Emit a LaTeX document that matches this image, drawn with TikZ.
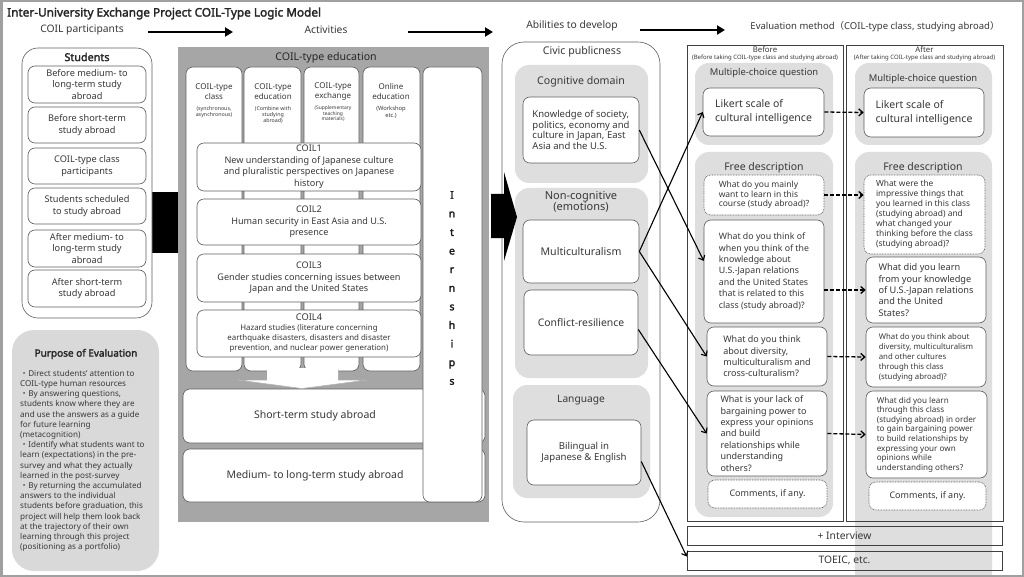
\documentclass[tikz,border=0pt]{standalone}
\usepackage{fontspec}
\setmainfont{Noto Sans}[AutoFakeBold=2.2]
\newfontfamily\cjk{Noto Sans CJK JP}
\usetikzlibrary{arrows.meta}
\definecolor{txt}{HTML}{383838}
\definecolor{bord}{HTML}{5E5E5E}
\definecolor{lg}{HTML}{DEDEDE}
\definecolor{pg}{HTML}{D9D9D9}
\definecolor{mg}{HTML}{A6A6A6}
\definecolor{frm}{HTML}{A0A0A0}
\newcommand\setfs[2]{\fontsize{#1}{#2}\selectfont}
\newcommand{\mkbox}[7]{%
  \pgfmathsetmacro\mbw{#4-#2}\pgfmathsetmacro\mbh{#5-#3}%
  \pgfmathsetmacro\mbx{(#2+#4)/2}\pgfmathsetmacro\mby{(#3+#5)/2}%
  \node[inner sep=0pt, minimum width=\mbw pt, minimum height=\mbh pt, #1] (#6) at (\mbx,\mby) {#7};}
\tikzset{
  wbox/.style={draw=bord, fill=white, rounded corners=7pt, line width=0.6pt, align=center, text=txt},
  lbox/.style={wbox, align=left},
  dbox/.style={wbox, dash pattern=on 0.8pt off 0.8pt},
  dlbox/.style={dbox, align=left},
  gbox/.style={fill=lg, rounded corners=14pt},
  lbl/.style={text=txt, inner sep=0pt, align=center},
  sarrow/.style={line width=1.1pt, -{Straight Barb[length=4pt,width=7pt]}},
  darrow/.style={line width=1.3pt, dash pattern=on 4pt off 2pt, -{Straight Barb[length=4pt,width=7pt]}},
  tarrow/.style={line width=2.4pt, -{Triangle[length=8pt,width=9pt]}},
}
\begin{document}
\begin{tikzpicture}[x=1pt,y=-1pt]
\useasboundingbox (0,0) rectangle (1024,577);
\fill[white] (0,0) rectangle (1024,577);

% ---------- headings
\node[anchor=west, text=black!85, font=\bfseries\setfs{11.8}{13}, inner sep=0pt] (title) at (7,13.5) {Inter-University Exchange Project COIL-Type Logic Model};
\node[lbl, font=\setfs{10.3}{12}] (hpart) at (82,30) {COIL participants};
\node[lbl, font=\setfs{10.3}{12}] (hact) at (326,30) {Activities};
\node[lbl, font=\setfs{10.3}{12}] (habil) at (572,26) {Abilities to develop};
\node[lbl, font=\setfs{9.5}{12}] (heval) at (875,27) {Evaluation method{\cjk （}COIL-type class, studying abroad{\cjk ）}};
\coordinate (a1s) at (148,32); \coordinate (a1e) at (233,32);
\coordinate (a2s) at (408,32); \coordinate (a2e) at (493,32);
\coordinate (a3s) at (640,30); \coordinate (a3e) at (725,30);
\draw[tarrow] (a1s) -- (a1e);
\draw[tarrow] (a2s) -- (a2e);
\draw[tarrow] (a3s) -- (a3e);

% ---------- students
\fill[black] (150,192) rectangle (181,253);
\mkbox{wbox, rounded corners=16pt}{22}{48}{152}{318}{stud}{}
\node[lbl, text=black!85, font=\bfseries\setfs{10.8}{12}] (studt) at (87,57) {Students};
\mkbox{wbox, font=\setfs{9.2}{11.3}}{28}{66}{146}{103}{s1}{Before medium- to\\long-term study\\abroad}
\mkbox{wbox, font=\setfs{9.2}{11.3}}{28}{107}{146}{143}{s2}{Before short-term\\study abroad}
\mkbox{wbox, font=\setfs{9.2}{11.3}}{28}{148}{146}{184}{s3}{COIL-type class\\participants}
\mkbox{wbox, font=\setfs{9.2}{11.3}}{28}{188}{146}{224}{s4}{Students scheduled\\to study abroad}
\mkbox{wbox, font=\setfs{9.2}{11.3}}{28}{230}{146}{267}{s5}{After medium- to\\long-term study\\abroad}
\mkbox{wbox, font=\setfs{9.2}{11.3}}{28}{270}{146}{307}{s6}{After short-term\\study abroad}

% ---------- purpose
\mkbox{fill=pg, rounded corners=22pt}{12}{330}{159}{571}{purp}{}
\node[lbl, text=black!85, font=\bfseries\setfs{10}{11}] (purpt) at (86,354) {Purpose of Evaluation};
\node[anchor=north west, inner sep=0pt, align=left, text=txt, font=\setfs{8.1}{10.2}] (purpb) at (20,370) {{\cjk ・}Direct students' attention to\\COIL-type human resources\\{\cjk ・}By answering questions,\\students know where they are\\and use the answers as a guide\\for future learning\\(metacognition)\\{\cjk ・}Identify what students want to\\learn (expectations) in the pre-\\survey and what they actually\\learned in the post-survey\\{\cjk ・}By returning the accumulated\\answers to the individual\\students before graduation, this\\project will help them look back\\at the trajectory of their own\\learning through this project\\(positioning as a portfolio)};

% ---------- COIL-type education
\mkbox{fill=mg}{178}{47}{489}{522}{coil}{}
\node[lbl, text=black!85, font=\setfs{10.6}{12}] (coilt) at (326,58) {COIL-type education};
\mkbox{wbox}{186}{67}{242}{371}{c1}{}
\mkbox{wbox}{244}{67}{301}{371}{c2}{}
\mkbox{wbox}{304}{67}{359}{371}{c3}{}
\mkbox{wbox}{363}{67}{420}{371}{c4}{}
\node[lbl, font=\setfs{8}{10}] (c1t) at (214,92) {COIL-type\\class};
\node[lbl, font=\setfs{8}{10}] (c2t) at (273,92) {COIL-type\\education};
\node[lbl, font=\setfs{8}{10}] (c3t) at (333,92) {COIL-type\\exchange};
\node[lbl, font=\setfs{8}{10}] (c4t) at (391,92) {Online\\education};
\node[lbl, anchor=north, font=\setfs{5.3}{6.3}] (c1s) at (214,106) {(synchronous,\\asynchronous)};
\node[lbl, anchor=north, font=\setfs{5.3}{6.2}] (c2s) at (273,106) {(Combine with\\studying\\abroad)};
\node[lbl, anchor=north, font=\setfs{4.9}{5.4}] (c3s) at (333,106) {(Supplementary\\teaching\\materials)};
\node[lbl, anchor=north, font=\setfs{5.8}{7}] (c4s) at (391,106) {(Workshop\\etc.)};
\mkbox{wbox, font=\setfs{10.5}{12}}{183}{389}{485}{443}{shortsa}{\hspace*{-38pt}Short-term study abroad}
\mkbox{wbox, font=\setfs{10.5}{12}}{183}{449}{485}{502}{medsa}{\hspace*{-38pt}Medium- to long-term study abroad}
\draw[draw=black!30, fill=white, line width=0.5pt] (267,369) -- (267,380) -- (238,380) -- (302,388.5) -- (367,380) -- (338,380) -- (338,369);
\fill[white] (267.3,368) rectangle (337.7,380.3);
\mkbox{wbox, font=\setfs{9.1}{11.5}}{197}{143}{421}{191}{k1}{COIL1\\New understanding of Japanese culture\\and pluralistic perspectives on Japanese\\history}
\mkbox{wbox, font=\setfs{9.1}{11.5}}{197}{199}{421}{245}{k2}{COIL2\\Human security in East Asia and U.S.\\presence}
\mkbox{wbox, font=\setfs{9.1}{11.5}}{197}{254}{421}{302}{k3}{COIL3\\Gender studies concerning issues between\\Japan and the United States}
\mkbox{wbox, font=\setfs{7.9}{10}}{197}{310}{421}{357}{k4}{{\setfs{9.3}{10}COIL4}\\Hazard studies (literature concerning\\earthquake disasters, disasters and disaster\\prevention, and nuclear power generation)}
\mkbox{wbox}{423}{67}{482}{502}{intern}{}
\node[lbl, text=black!90, font=\bfseries\setfs{10.5}{18.6}] (internt) at (452,288) {I\\n\\t\\e\\r\\n\\s\\h\\i\\p\\s};

% ---------- abilities
\mkbox{wbox, rounded corners=22pt}{502}{42}{660}{522}{civic}{}
\node[lbl, font=\setfs{10.6}{12}] (civict) at (582,52) {Civic publicness};
\mkbox{gbox}{515}{65}{648}{183}{cogn}{}
\node[lbl, font=\setfs{10.6}{12}] (cognt) at (581,82) {Cognitive domain};
\mkbox{lbox, font=\setfs{9.5}{10.4}}{523}{97}{639}{163}{know}{Knowledge of society,\\politics, economy and\\culture in Japan, East\\Asia and the U.S.}
\mkbox{gbox}{515}{188}{648}{378}{noncog}{}
\node[lbl, font=\setfs{11}{11.6}] (noncogt) at (581,202) {Non-cognitive\\(emotions)};
\mkbox{wbox, font=\setfs{10.6}{12}}{523}{220}{639}{283}{multi}{Multiculturalism}
\mkbox{wbox, font=\setfs{10.4}{12}}{524}{290}{638}{355}{confl}{Conflict-resilience}
\mkbox{gbox}{513}{385}{650}{498}{lang}{}
\node[lbl, font=\setfs{10.2}{12}] (langt) at (581,400) {Language};
\mkbox{wbox, font=\setfs{9.6}{11.8}}{527}{420}{641}{485}{bil}{Bilingual in\\Japanese \& English}
\fill[black] (491,194) -- (504,194) -- (504,172) -- (517,217) -- (504,261) -- (504,238) -- (491,238) -- cycle;

% ---------- evaluation
\fill[lg, rounded corners=14pt] (855,620) -- (855,152) -- (992,152) -- (992,620) -- cycle;
\mkbox{draw=black!75, line width=0.6pt}{687}{45}{843}{521}{bframe}{}
\mkbox{draw=black!75, line width=0.6pt}{846}{45}{1003}{521}{aframe}{}
\node[lbl, font=\setfs{7.8}{9}] (bhead) at (765,50) {Before};
\node[lbl, font=\setfs{6}{7}] (bsub) at (765,58) {(Before taking COIL-type class and studying abroad)};
\node[lbl, font=\setfs{7.8}{9}] (ahead) at (924.5,50) {After};
\node[lbl, font=\setfs{6}{7}] (asub) at (924.5,58) {(After taking COIL-type class and studying abroad)};

\mkbox{gbox}{695}{63}{833}{145}{bmc}{}
\node[lbl, font=\setfs{9.4}{11}] (bmct) at (764,73) {Multiple-choice question};
\mkbox{lbox, font=\setfs{10.5}{14}}{703}{88}{824}{136}{likb}{Likert scale of\\cultural intelligence}
\mkbox{gbox}{855}{63}{992}{145}{amc}{}
\node[lbl, font=\setfs{9.4}{11}] (amct) at (923,79) {Multiple-choice question};
\mkbox{lbox, font=\setfs{10.5}{14}}{864}{88}{984}{137}{lika}{Likert scale of\\cultural intelligence}

\mkbox{gbox}{695}{152}{833}{517}{bfree}{}
\node[lbl, font=\setfs{10.5}{12}] (bfreet) at (764,168) {Free description};
\node[lbl, font=\setfs{10.5}{12}] (afreet) at (923,168) {Free description};

\mkbox{dlbox, font=\setfs{8.5}{9.7}}{704}{175}{824}{215}{q1}{What do you mainly\\want to learn in this\\course (study abroad)?}
\mkbox{lbox, font=\setfs{8.8}{11.4}}{704}{220}{824}{323}{q2}{What do you think of\\when you think of the\\knowledge about\\U.S.-Japan relations\\and the United States\\that is related to this\\class (study abroad)?}
\mkbox{lbox, font=\setfs{9}{11.3}}{707}{327}{827}{386}{q3}{What do you think\\about diversity,\\multiculturalism and\\cross-culturalism?}
\mkbox{lbox, font=\setfs{9}{11.4}}{707}{391}{827}{476}{q4}{What is your lack of\\bargaining power to\\express your opinions\\and build\\relationships while\\understanding\\others?}
\mkbox{dlbox, font=\setfs{9}{11}}{708}{480}{827}{508}{qc}{Comments, if any.}

\mkbox{dlbox, font=\setfs{8.4}{10}}{864}{175}{985}{254}{r1}{What were the\\impressive things that\\you learned in this class\\(studying abroad) and\\what changed your\\thinking before the class\\(studying abroad)?}
\mkbox{lbox, font=\setfs{9.2}{11.3}}{866}{257}{986}{323}{r2}{What did you learn\\from your knowledge\\of U.S.-Japan relations\\and the United\\States?}
\mkbox{lbox, font=\setfs{7.8}{10}}{866}{327}{986}{387}{r3}{What do you think about\\diversity, multiculturalism\\and other cultures\\through this class\\(studying abroad)?}
\mkbox{lbox, font=\setfs{8.1}{9.6}}{866}{391}{987}{478}{r4}{What did you learn\\through this class\\(studying abroad) in order\\to gain bargaining power\\to build relationships by\\expressing your own\\opinions while\\understanding others?}
\mkbox{dlbox, font=\setfs{9}{11}}{869}{482}{986}{510}{rc}{Comments, if any.}

\mkbox{draw=black!75, line width=0.6pt, text=txt, font=\setfs{10.3}{12}}{687}{526}{1002}{545}{intv}{+ Interview}
\mkbox{draw=black!75, line width=0.6pt, text=txt, font=\setfs{10.3}{12}}{687}{551}{1002}{570}{toeic}{TOEIC, etc.}

% ---------- connectors
\draw[sarrow] (multi.east) -- (likb.west);
\draw[sarrow] (know.east) -- (q2.170);
\draw[sarrow] (multi.east) -- (q3.west);
\draw[sarrow] ([yshift=-7pt]confl.east) -- (q4.west);
\draw[sarrow] ([yshift=-9pt]bil.east) -- ([yshift=4pt]toeic.west);

\draw[darrow] (likb.east) -- (lika.west);
\draw[darrow] (q1.east) -- (q1.east -| r1.west);
\draw[darrow] (r2.west -| q2.east) -- (r2.west);
\draw[darrow] (q3.east) -- (r3.west);
\draw[darrow] (q4.east) -- (r4.west);

% ---------- outer frame
\draw[frm, line width=2.5pt] (1.25,1.25) rectangle (1022.75,575.75);
\end{tikzpicture}
\end{document}
